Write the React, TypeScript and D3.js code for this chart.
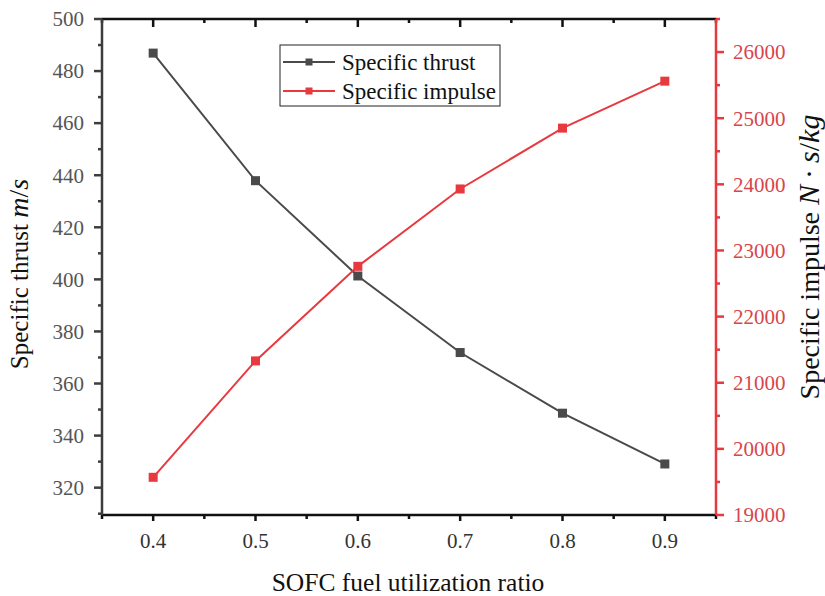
import React from "react";
import * as d3 from "d3";

const ratios = [0.4, 0.5, 0.6, 0.7, 0.8, 0.9];
const thrust = [486.9, 437.9, 401.3, 371.9, 348.6, 329.1];
const impulse = [19570, 21330, 22760, 23930, 24850, 25560];
const xTicks = [0.4, 0.5, 0.6, 0.7, 0.8, 0.9];
const xMinor = [0.35, 0.45, 0.55, 0.65, 0.75, 0.85, 0.95];
const yLTicks = [320, 340, 360, 380, 400, 420, 440, 460, 480, 500];
const yLMinor = [310, 330, 350, 370, 390, 410, 430, 450, 470, 490];
const yRTicks = [19000, 20000, 21000, 22000, 23000, 24000, 25000, 26000];
const yRMinor = [19500, 20500, 21500, 22500, 23500, 24500, 25500, 26500];

const W = 825, H = 596;
const L = 102, R = 716, T = 19, B = 515;
const BLACK = "#4a4a4a";
const RED = "#e8393f";
const FONT = "'Liberation Serif', 'Times New Roman', serif";

export default function App() {
  const x = d3.scaleLinear().domain([0.35, 0.95]).range([L, R]);
  const yL = d3.scaleLinear().domain([309.5, 500]).range([B, T]);
  const yR = d3.scaleLinear().domain([19000, 26500]).range([B, T]);
  const lineL = d3.line<number>().x((_, i) => x(ratios[i])).y((d) => yL(d));
  const lineR = d3.line<number>().x((_, i) => x(ratios[i])).y((d) => yR(d));
  const ms = 9;

  return (
    <svg width={W} height={H} style={{ position: "absolute", left: 0, top: 0, background: "#fff" }} fontFamily={FONT}>
      {/* series */}
      <path d={lineL(thrust) || ""} fill="none" stroke={BLACK} strokeWidth={2} />
      <path d={lineR(impulse) || ""} fill="none" stroke={RED} strokeWidth={2} />
      {thrust.map((v, i) => (
        <rect key={"b" + i} x={x(ratios[i]) - ms / 2} y={yL(v) - ms / 2} width={ms} height={ms} fill={BLACK} />
      ))}
      {impulse.map((v, i) => (
        <rect key={"r" + i} x={x(ratios[i]) - ms / 2} y={yR(v) - ms / 2} width={ms} height={ms} fill={RED} />
      ))}

      {/* top axis */}
      <line x1={L} x2={R} y1={T} y2={T} stroke="#111" strokeWidth={2.5} />
      {xTicks.map((t) => (
        <line key={"tt" + t} x1={x(t)} x2={x(t)} y1={T} y2={T + 8} stroke="#111" strokeWidth={2.5} />
      ))}
      {xMinor.map((t) => (
        <line key={"tm" + t} x1={x(t)} x2={x(t)} y1={T} y2={T + 4} stroke="#111" strokeWidth={2.5} />
      ))}

      {/* bottom axis */}
      <line x1={L} x2={R} y1={B} y2={B} stroke="#111" strokeWidth={2.5} />
      {xTicks.map((t) => (
        <g key={"bt" + t}>
          <line x1={x(t)} x2={x(t)} y1={B} y2={B + 6} stroke="#111" strokeWidth={2.5} />
          <text x={x(t)} y={548} textAnchor="middle" fontSize={21} fill="#333" fontFamily={FONT}>
            {d3.format(".1f")(t)}
          </text>
        </g>
      ))}
      {xMinor.map((t) => (
        <line key={"bm" + t} x1={x(t)} x2={x(t)} y1={B} y2={B + 4} stroke="#111" strokeWidth={2.5} />
      ))}

      {/* left axis */}
      <line x1={L} x2={L} y1={T} y2={B} stroke="#3d3d3d" strokeWidth={2.5} />
      {yLTicks.map((t) => (
        <g key={"lt" + t}>
          <line x1={L - 8} x2={L} y1={yL(t)} y2={yL(t)} stroke="#3d3d3d" strokeWidth={2.5} />
          <text x={84} y={yL(t)} dy="0.35em" textAnchor="end" fontSize={21} fill="#555" fontFamily={FONT}>
            {t}
          </text>
        </g>
      ))}
      {yLMinor.map((t) => (
        <line key={"lm" + t} x1={L - 4} x2={L} y1={yL(t)} y2={yL(t)} stroke="#3d3d3d" strokeWidth={2.5} />
      ))}

      {/* right axis */}
      <line x1={R} x2={R} y1={T} y2={B} stroke={RED} strokeWidth={2.5} />
      {yRTicks.map((t) => (
        <g key={"rt" + t}>
          <line x1={R} x2={R + 8} y1={yR(t)} y2={yR(t)} stroke={RED} strokeWidth={2.5} />
          <text x={733} y={yR(t)} dy="0.35em" textAnchor="start" fontSize={21} fill="#d8454c" fontFamily={FONT}>
            {t}
          </text>
        </g>
      ))}
      {yRMinor.map((t) => (
        <line key={"rm" + t} x1={R} x2={R + 4} y1={yR(t)} y2={yR(t)} stroke={RED} strokeWidth={2.5} />
      ))}

      {/* axis titles */}
      <text x={408} y={591} textAnchor="middle" fontSize={25.5} fill="#111" fontFamily={FONT}>
        SOFC fuel utilization ratio
      </text>
      <text transform="translate(28,274) rotate(-90)" textAnchor="middle" fontSize={25} fill="#111" fontFamily={FONT}>
        Specific thrust <tspan fontStyle="italic" fontSize={28}>m</tspan>
        <tspan fontSize={28}>/</tspan>
        <tspan fontStyle="italic" fontSize={28}>s</tspan>
      </text>
      <text transform="translate(819,257) rotate(-90)" textAnchor="middle" fontSize={28} fill="#111" fontFamily={FONT}>
        Specific impulse <tspan fontStyle="italic" fontSize={30}>N</tspan>
        <tspan fontSize={30}>{"\u2009\u00B7\u2009"}</tspan>
        <tspan fontStyle="italic" fontSize={30}>s</tspan>
        <tspan fontSize={30}>/</tspan>
        <tspan fontStyle="italic" fontSize={30}>kg</tspan>
      </text>

      {/* legend */}
      <rect x={280} y={45} width={220} height={61} fill="#fff" stroke="#222" strokeWidth={1} />
      <line x1={283} x2={335} y1={62} y2={62} stroke={BLACK} strokeWidth={2} />
      <rect x={305.5} y={58.5} width={7} height={7} fill={BLACK} />
      <text x={342} y={62} dy="0.35em" fontSize={23} fill="#111" fontFamily={FONT}>Specific thrust</text>
      <line x1={283} x2={335} y1={91} y2={91} stroke={RED} strokeWidth={2} />
      <rect x={305.5} y={87.5} width={7} height={7} fill={RED} />
      <text x={342} y={91} dy="0.35em" fontSize={23} fill="#111" fontFamily={FONT}>Specific impulse</text>
    </svg>
  );
}
